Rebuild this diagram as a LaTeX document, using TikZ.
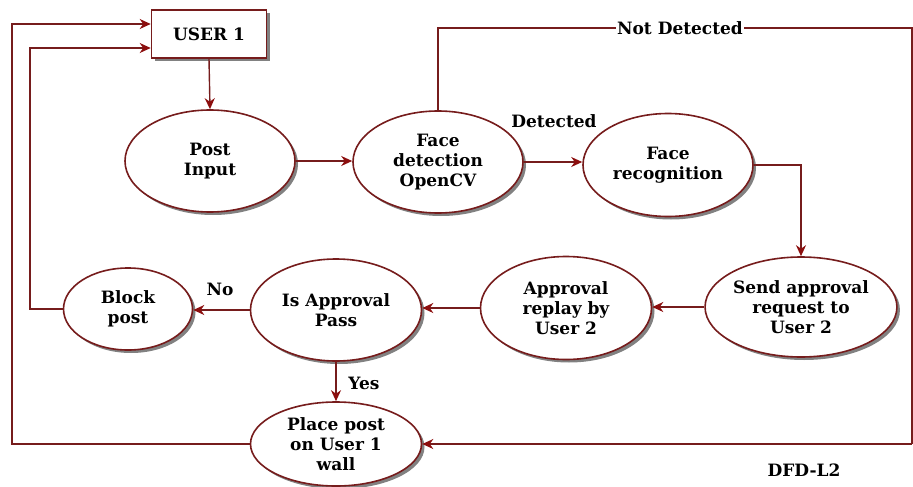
\documentclass[tikz,border=0pt]{standalone}
\usepackage{fontspec}
\setmainfont{DejaVu Serif}
\usetikzlibrary{arrows.meta,shadows,shapes.geometric}
\definecolor{dr}{RGB}{118,28,28}
\definecolor{ar}{RGB}{140,14,14}
\tikzset{
  proc/.style={ellipse,draw=dr,line width=1.6pt,fill=white,inner sep=0pt,align=center,
    font=\bfseries\fontsize{17}{20}\selectfont,
    drop shadow={shadow xshift=3pt,shadow yshift=-3pt,fill=black!55,opacity=0.9}},
  ent/.style={rectangle,draw=dr,line width=1.6pt,fill=white,inner sep=0pt,
    font=\bfseries\fontsize{17}{20}\selectfont,
    drop shadow={shadow xshift=3pt,shadow yshift=-3pt,fill=black!55,opacity=0.9}},
  flow/.style={draw=dr,line width=1.4pt},
  arr/.style={flow,-{Stealth[length=11pt,width=10pt,inset=3.5pt,fill=ar,color=ar]}},
  lbl/.style={font=\bfseries\fontsize{17}{20}\selectfont,inner sep=1pt}
}
\begin{document}
\begin{tikzpicture}[x=1pt,y=-1pt]
\useasboundingbox (0,0) rectangle (913,487);
\node[ent,minimum width=115pt,minimum height=48pt] (u1) at (209,34) {USER 1};
\node[proc,minimum width=170pt,minimum height=102pt] (post) at (210,161) {Post\\Input};
\node[proc,minimum width=170pt,minimum height=102pt] (face) at (438,162) {Face\\detection\\OpenCV};
\node[proc,minimum width=170pt,minimum height=103pt] (rec) at (668,165) {Face\\recognition};
\node[proc,minimum width=184pt,minimum height=100pt] (send) at (801,307) {Send approval\\request to\\User 2};
\node[proc,minimum width=171pt,minimum height=103pt] (rep) at (566,308) {Approval\\replay by\\User 2};
\node[proc,minimum width=171pt,minimum height=102pt] (isap) at (336,310) {Is Approval\\Pass};
\node[proc,minimum width=129pt,minimum height=82pt] (block) at (128,309) {Block\\post};
\node[proc,minimum width=171pt,minimum height=84pt] (place) at (336,444) {Place post\\on User 1\\wall};

\coordinate (ndT) at (912,28);
\coordinate (ndB) at (912,444);
\coordinate (b1) at (30,48);
\coordinate (a1) at (12,24);

\draw[arr] (u1.south) -- (post.north);
\draw[arr] (post.east) -- (post.east -| face.west);
\draw[arr] (face.east) -- (face.east -| rec.west);
\draw[arr] (rec.east) -| (send.north);
\draw[arr] (send.west) -- (send.west -| rep.east);
\draw[arr] (rep.west) -- (rep.west -| isap.east);
\draw[arr] (isap.west) -- (isap.west -| block.east);
\draw[arr] (isap.south) -- (place.north);
\draw[flow] (face.north) |- (ndT) -- (ndB);
\draw[arr] (ndB) -- (place.east);
\draw[arr] (block.west) -| (b1) -- (b1 -| u1.west);
\draw[arr] (place.west) -| (a1) -- (a1 -| u1.west);

\node[lbl,fill=white] (ndl) at (680,28) {Not Detected};
\node[lbl] (detl) at (554,121) {Detected};
\node[lbl] (nol) at (220,289) {No};
\node[lbl] (yesl) at (364,383) {Yes};
\node[lbl] (dfd) at (804,470) {DFD-L2};
\end{tikzpicture}
\end{document}
